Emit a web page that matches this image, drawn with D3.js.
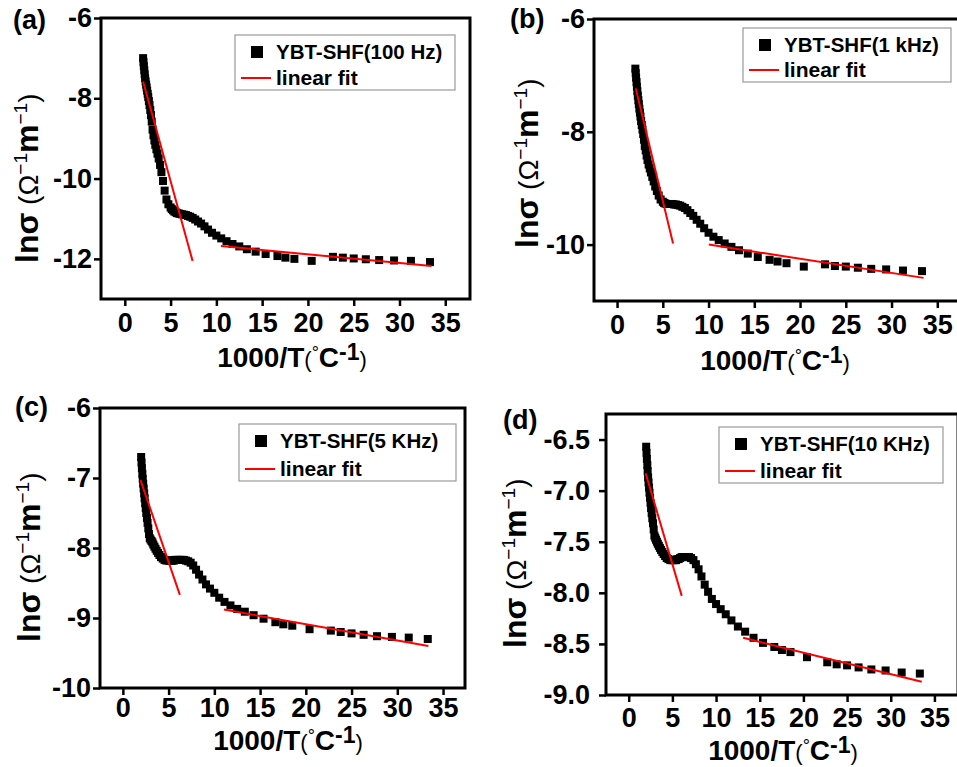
<!DOCTYPE html>
<html>
<head>
<meta charset="utf-8">
<title>ln sigma vs 1000/T</title>
<script src="https://d3js.org/d3.v7.min.js"></script>
<style>
  body { margin: 0; background: #fff; }
  svg text { font-family: Arial, "Liberation Sans", sans-serif; }
</style>
</head>
<body>
<svg id="chart" width="957" height="767"></svg>
<script>
// 1000/T values (same temperatures for every frequency)
var xVals = [2.00, 2.04, 2.08, 2.13, 2.17, 2.22, 2.27, 2.33, 2.38, 2.44,
  2.50, 2.56, 2.63, 2.70, 2.78, 2.86, 2.94, 3.03, 3.13, 3.23,
  3.33, 3.45, 3.57, 3.70, 3.85, 4.00, 4.17, 4.35, 4.55, 4.76,
  5.00, 5.13, 5.26, 5.41, 5.56, 5.71, 5.88, 6.06, 6.25, 6.45,
  6.67, 6.90, 7.14, 7.41, 7.69, 8.00, 8.33, 8.70, 9.09, 9.52,
  10.00, 10.53, 11.11, 11.76, 12.50, 13.33, 14.29, 15.38, 16.67, 17.54,
  18.52, 20.41, 22.73, 23.81, 25.00, 26.32, 27.78, 29.41, 31.25, 33.33];

// ln(sigma) at 100 Hz
var sigma100Hz = [-7.00, -7.10, -7.20, -7.30, -7.40, -7.50, -7.58, -7.66, -7.73, -7.81,
  -7.89, -7.97, -8.07, -8.17, -8.29, -8.42, -8.58, -8.78, -8.92, -9.05,
  -9.16, -9.27, -9.38, -9.50, -9.66, -9.84, -10.06, -10.30, -10.52, -10.64,
  -10.72, -10.76, -10.79, -10.82, -10.84, -10.86, -10.87, -10.88, -10.89, -10.90,
  -10.91, -10.93, -10.95, -10.98, -11.02, -11.07, -11.12, -11.19, -11.27, -11.35,
  -11.42, -11.49, -11.56, -11.63, -11.69, -11.76, -11.82, -11.88, -11.93, -11.97,
  -12.00, -12.05, -11.95, -11.97, -11.99, -12.01, -12.03, -12.04, -12.05, -12.08];

// ln(sigma) at 1 kHz
var sigma1kHz = [-6.88, -6.96, -7.04, -7.12, -7.20, -7.28, -7.36, -7.44, -7.51, -7.59,
  -7.66, -7.73, -7.81, -7.88, -7.96, -8.04, -8.14, -8.25, -8.33, -8.42,
  -8.50, -8.58, -8.65, -8.72, -8.80, -8.88, -8.97, -9.05, -9.13, -9.20,
  -9.24, -9.26, -9.27, -9.28, -9.28, -9.28, -9.28, -9.28, -9.29, -9.29,
  -9.30, -9.31, -9.33, -9.35, -9.39, -9.44, -9.49, -9.56, -9.63, -9.71,
  -9.79, -9.86, -9.92, -9.98, -10.04, -10.10, -10.16, -10.22, -10.27, -10.30,
  -10.33, -10.39, -10.35, -10.38, -10.39, -10.41, -10.43, -10.44, -10.46, -10.47];

// ln(sigma) at 5 kHz
var sigma5kHz = [-6.70, -6.78, -6.86, -6.94, -7.01, -7.08, -7.15, -7.22, -7.29, -7.36,
  -7.43, -7.50, -7.57, -7.64, -7.72, -7.80, -7.86, -7.88, -7.90, -7.92,
  -7.95, -7.98, -8.01, -8.04, -8.07, -8.10, -8.13, -8.15, -8.17, -8.18,
  -8.18, -8.18, -8.18, -8.18, -8.18, -8.17, -8.17, -8.17, -8.17, -8.17,
  -8.17, -8.18, -8.19, -8.21, -8.25, -8.31, -8.38, -8.45, -8.52, -8.58,
  -8.64, -8.71, -8.77, -8.82, -8.87, -8.91, -8.96, -9.01, -9.06, -9.09,
  -9.11, -9.16, -9.18, -9.20, -9.22, -9.24, -9.26, -9.27, -9.28, -9.30];

// ln(sigma) at 10 kHz
var sigma10kHz = [-6.57, -6.63, -6.69, -6.75, -6.81, -6.87, -6.92, -6.97, -7.02, -7.07,
  -7.12, -7.17, -7.22, -7.27, -7.32, -7.38, -7.44, -7.46, -7.48, -7.50,
  -7.52, -7.54, -7.56, -7.58, -7.60, -7.62, -7.64, -7.66, -7.67, -7.68,
  -7.68, -7.68, -7.68, -7.68, -7.67, -7.67, -7.66, -7.65, -7.65, -7.65,
  -7.65, -7.65, -7.66, -7.68, -7.72, -7.77, -7.84, -7.92, -7.99, -8.06,
  -8.11, -8.16, -8.21, -8.27, -8.33, -8.38, -8.44, -8.49, -8.53, -8.56,
  -8.58, -8.63, -8.68, -8.70, -8.71, -8.73, -8.75, -8.76, -8.78, -8.79];

// linear fit end points [x, y]: high-temperature segment and low-temperature segment
var fit100Hz = [[[2.0, -7.58], [7.4, -12.05]], [[10.5, -11.68], [33.5, -12.18]]];
var fit1kHz = [[[2.04, -7.23], [6.12, -9.98]], [[10.03, -10.0], [33.5, -10.59]]];
var fit5kHz = [[[1.93, -7.03], [6.23, -8.67]], [[11.05, -8.88], [33.4, -9.40]]];
var fit10kHz = [[[1.94, -6.83], [6.07, -8.03]], [[13.1, -8.44], [33.55, -8.87]]];

var panelTags = ["(a)", "(b)", "(c)", "(d)"];
var seriesNames = ["YBT-SHF(100 Hz)", "YBT-SHF(1 kHz)", "YBT-SHF(5 KHz)", "YBT-SHF(10 KHz)"];
var fitName = "linear fit";
var xTicks = [0, 5, 10, 15, 20, 25, 30, 35];
var yTicksA = [-6, -8, -10, -12];
var yTicksB = [-6, -8, -10];
var yTicksC = [-6, -7, -8, -9, -10];
var yTicksD = [-6.5, -7.0, -7.5, -8.0, -8.5, -9.0];

var series = [sigma100Hz, sigma1kHz, sigma5kHz, sigma10kHz];
var fits = [fit100Hz, fit1kHz, fit5kHz, fit10kHz];
var yTicks = [yTicksA, yTicksB, yTicksC, yTicksD];

// layout of the four frames (pixels) and their axis domains
var layout = [
  {l: 101, t: 18, r: 470, b: 299, xd: [-2.6, 37.7], yd: [-13, -6], fmt: 0, pad: 2, xpad: 7,
   tag: [13, 29], leg: [235, 35, 220, 55], xt: [292, 367], yt: [38, 263]},
  {l: 594, t: 19, r: 962, b: 301, xd: [-2.52, 37.7], yd: [-11, -6], fmt: 0, pad: 2, xpad: 7,
   tag: [510, 28], leg: [743, 28, 208, 54], xt: [775, 370], yt: [538, 248]},
  {l: 100, t: 408, r: 465, b: 688, xd: [-2.5, 37.4], yd: [-10, -6], fmt: 0, pad: 2, xpad: 3,
   tag: [15, 416], leg: [239, 424, 217, 57], xt: [288, 750], yt: [40, 642]},
  {l: 606, t: 414, r: 958, b: 695, xd: [-2.6, 37.7], yd: [-9, -6.25], fmt: 1, pad: 9, xpad: 6,
   tag: [503, 429], leg: [719, 427, 224, 56], xt: [783, 760], yt: [526, 648]}
];

var svg = d3.select("#chart");

layout.forEach(function(p, i) {
  var g = svg.append("g");
  var x = d3.scaleLinear().domain(p.xd).range([p.l, p.r]);
  var y = d3.scaleLinear().domain(p.yd).range([p.b, p.t]);

  // axes
  var xa = g.append("g")
    .attr("transform", "translate(0," + p.b + ")")
    .call(d3.axisBottom(x).tickValues(xTicks).tickSize(7).tickPadding(p.xpad).tickFormat(d3.format("d")));
  var ya = g.append("g")
    .attr("transform", "translate(" + p.l + ",0)")
    .call(d3.axisLeft(y).tickValues(yTicks[i]).tickSize(7).tickPadding(p.pad)
      .tickFormat(function(d) { return p.fmt ? d.toFixed(1) : String(d); }));
  [xa, ya].forEach(function(a) {
    a.select(".domain").remove();
    a.selectAll(".tick line").attr("stroke", "#000").attr("stroke-width", 2.5);
    a.selectAll(".tick text")
      .attr("fill", "#000")
      .style("font-size", "27px")
      .style("font-weight", "bold");
  });

  // frame
  g.append("rect")
    .attr("x", p.l).attr("y", p.t)
    .attr("width", p.r - p.l).attr("height", p.b - p.t)
    .attr("fill", "none").attr("stroke", "#000").attr("stroke-width", 3);

  // data squares
  var s = 8;
  g.selectAll(".pt")
    .data(xVals.map(function(v, k) { return [v, series[i][k]]; }))
    .enter().append("rect")
    .attr("class", "pt")
    .attr("x", function(d) { return x(d[0]) - s / 2; })
    .attr("y", function(d) { return y(d[1]) - s / 2; })
    .attr("width", s).attr("height", s)
    .attr("fill", "#000");

  // fit lines
  var line = d3.line().x(function(d) { return x(d[0]); }).y(function(d) { return y(d[1]); });
  fits[i].forEach(function(seg) {
    g.append("path").attr("d", line(seg))
      .attr("fill", "none").attr("stroke", "#ff0000").attr("stroke-width", 2);
  });

  // legend
  var lg = g.append("g").attr("transform", "translate(" + p.leg[0] + "," + p.leg[1] + ")");
  lg.append("rect").attr("width", p.leg[2]).attr("height", p.leg[3])
    .attr("fill", "#fff").attr("stroke", "#999").attr("stroke-width", 1.2);
  lg.append("rect").attr("x", 16).attr("y", 11).attr("width", 12).attr("height", 12).attr("fill", "#000");
  lg.append("text").attr("x", 41).attr("y", 24).text(seriesNames[i])
    .style("font-size", "20.5px").style("font-weight", "bold");
  lg.append("line").attr("x1", 6).attr("x2", 36).attr("y1", p.leg[3] - 12).attr("y2", p.leg[3] - 12)
    .attr("stroke", "#ff0000").attr("stroke-width", 2);
  lg.append("text").attr("x", 41).attr("y", p.leg[3] - 5).text(fitName)
    .style("font-size", "21px").style("font-weight", "bold");

  // panel tag
  g.append("text").attr("x", p.tag[0]).attr("y", p.tag[1]).text(panelTags[i])
    .style("font-size", "27px").style("font-weight", "bold");

  // x title
  var xt = g.append("text").attr("x", p.xt[0]).attr("y", p.xt[1]).attr("text-anchor", "middle");
  xt.append("tspan").text("1000/T").style("font-size", "28px").style("font-weight", "bold");
  xt.append("tspan").text("(").style("font-size", "22px");
  xt.append("tspan").text("°").attr("dy", -8).style("font-size", "18px");
  xt.append("tspan").text("C").attr("dy", 8).style("font-size", "28px").style("font-weight", "bold");
  xt.append("tspan").text("-1").attr("dy", -7).style("font-size", "23px").style("font-weight", "bold");
  xt.append("tspan").text(")").attr("dy", 7).style("font-size", "22px");

  // y title
  var yt = g.append("text")
    .attr("transform", "translate(" + p.yt[0] + "," + p.yt[1] + ") rotate(-90)");
  yt.append("tspan").text("lnσ").style("font-size", "32px").style("font-weight", "bold");
  yt.append("tspan").text(" (Ω").style("font-size", "28px");
  yt.append("tspan").text("−1").attr("dy", -11).style("font-size", "19px");
  yt.append("tspan").text("m").attr("dy", 11).style("font-size", "32px").style("font-weight", "bold");
  yt.append("tspan").text("−1").attr("dy", -11).style("font-size", "19px");
  yt.append("tspan").text(")").attr("dy", 11).style("font-size", "28px");
});
</script>
</body>
</html>
